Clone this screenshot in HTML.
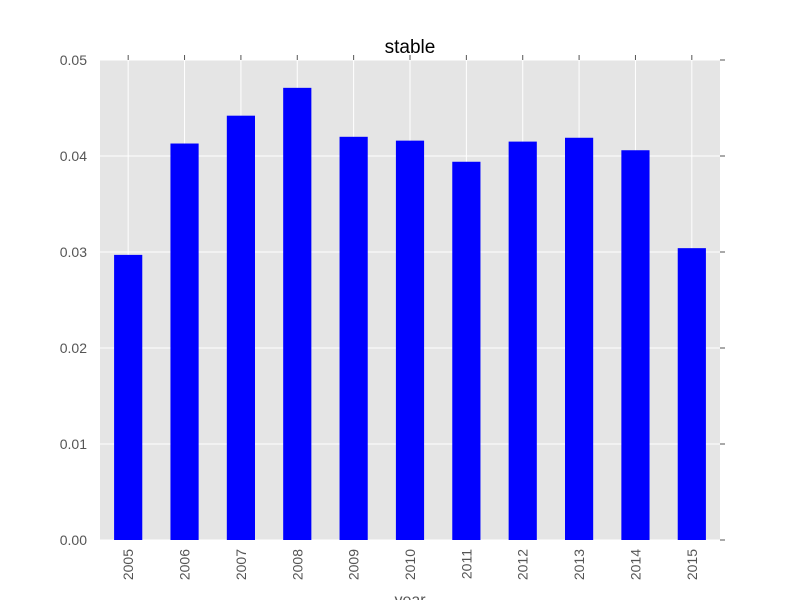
<!DOCTYPE html>
<html><head><meta charset="utf-8"><style>
body{margin:0;background:#fff;}
svg text{font-family:"Liberation Sans",sans-serif;}
</style></head><body>
<svg id="chart" width="800" height="600"></svg>
<script>
const years=["2005","2006","2007","2008","2009","2010","2011","2012","2013","2014","2015"];
const values=[0.0297,0.0413,0.0442,0.0471,0.0420,0.0416,0.0394,0.0415,0.0419,0.0406,0.0304];
const yTicks=[0,0.01,0.02,0.03,0.04,0.05];
const yTickLabels=["0.00","0.01","0.02","0.03","0.04","0.05"];
const NS="http://www.w3.org/2000/svg";
const svg=document.getElementById('chart');
const L=100,R=720,T=60,B=540,yMax=0.05;
const y=v=>B-(v/yMax)*(B-T);
const step=(R-L)/years.length;
const x=i=>L+step*(i+0.5);
function mk(tag,attrs,parent){const e=document.createElementNS(NS,tag);for(const k in attrs)e.setAttribute(k,attrs[k]);(parent||svg).appendChild(e);return e;}
const bg=mk('rect',{x:L,y:T,width:R-L,height:B-T,fill:'#e5e5e5'});


yTicks.forEach((t,i)=>{
 const g=mk('line',{x1:L,x2:R,y1:y(t),y2:y(t),stroke:'#fff','stroke-width':1});
 
 
 mk('line',{x1:R,x2:R+5,y1:y(t),y2:y(t),stroke:'#555'});
 const tx=mk('text',{x:L-13,y:y(t)+5,'text-anchor':'end','font-size':14,fill:'#555'});
 tx.textContent=yTickLabels[i];
 
 
});
years.forEach((yr,i)=>{
 const cx=x(i);
 const g=mk('line',{x1:cx,x2:cx,y1:T,y2:B,stroke:'#fff','stroke-width':1});
 
 
 mk('line',{x1:cx,x2:cx,y1:T-5,y2:T,stroke:'#555'});
 const bw=step*0.5;
 const r=mk('rect',{x:cx-bw/2,y:y(values[i]),width:bw,height:B-y(values[i]),fill:'#0000ff'});
 
 
 const tx=mk('text',{x:0,y:0,transform:`translate(${cx+5},${B+9}) rotate(-90)`,'text-anchor':'end','font-size':14,fill:'#555'});
 tx.textContent=yr;
 
 
});
const title=mk('text',{x:(L+R)/2,y:53,'text-anchor':'middle','font-size':19,fill:'#000'});
title.textContent='stable';


const xl=mk('text',{x:(L+R)/2,y:605,'text-anchor':'middle','font-size':16,fill:'#555'});
xl.textContent='year';


</script>
</body></html>
